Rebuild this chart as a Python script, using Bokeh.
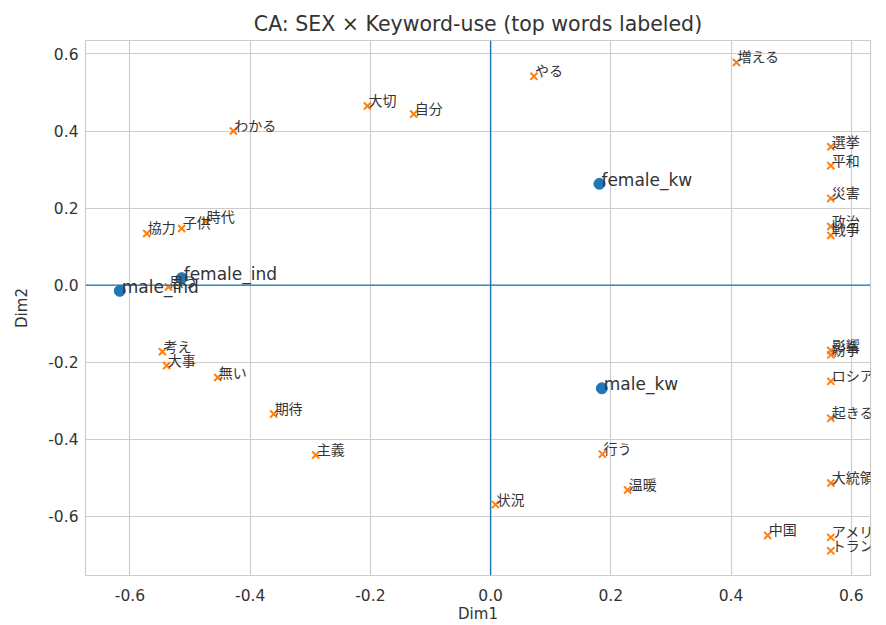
from bokeh.plotting import figure
from bokeh.models import ColumnDataSource, LabelSet, Span, FixedTicker, PrintfTickFormatter, Range1d
from bokeh.core.properties import value
from bokeh.embed import file_html
from bokeh.resources import INLINE

# Category points (row/column profiles)
cat_names = ["male_ind", "female_ind", "female_kw", "male_kw"]
cat_dim1 = [-0.617, -0.514, 0.181, 0.185]
cat_dim2 = [-0.015, 0.018, 0.263, -0.268]

# Keyword points
word_names = ["増える", "やる", "大切", "自分", "わかる", "選挙", "平和", "災害", "政治", "戦争",
              "協力", "子供", "時代", "思う", "考え", "大事", "無い", "期待", "主義",
              "状況", "行う", "温暖", "中国", "影響", "紛争", "ロシア", "起きる", "大統領",
              "アメリカ", "トランプ"]
word_dim1 = [0.409, 0.072, -0.205, -0.128, -0.428, 0.566, 0.566, 0.566, 0.566, 0.566,
             -0.572, -0.514, -0.474, -0.536, -0.546, -0.539, -0.454, -0.361, -0.291,
             0.008, 0.186, 0.228, 0.461, 0.566, 0.566, 0.566, 0.566, 0.566,
             0.566, 0.566]
word_dim2 = [0.578, 0.542, 0.465, 0.444, 0.400, 0.359, 0.310, 0.225, 0.152, 0.129,
             0.134, 0.147, 0.165, -0.005, -0.173, -0.209, -0.240, -0.335, -0.441,
             -0.570, -0.439, -0.532, -0.650, -0.170, -0.181, -0.250, -0.346, -0.514,
             -0.655, -0.690]

x_ticks = [-0.6, -0.4, -0.2, 0.0, 0.2, 0.4, 0.6]
y_ticks = [-0.6, -0.4, -0.2, 0.0, 0.2, 0.4, 0.6]

BLUE = "#1f77b4"
ORANGE = "#ff7f0e"
GRID = "#d0cccc"
TXT = "#333333"
FONT = "DejaVu Sans"
JP = "Noto Sans CJK JP"

p = figure(width=886, height=625, output_backend="svg", toolbar_location=None,
           x_range=Range1d(-0.674, 0.632), y_range=Range1d(-0.754, 0.635),
           title="CA: SEX × Keyword-use (top words labeled)",
           min_border_left=85, min_border_right=16, min_border_top=40, min_border_bottom=47)

p.title.align = "center"
p.title.text_font = FONT
p.title.text_font_size = "20.5px"
p.title.text_font_style = "normal"
p.title.text_color = TXT
p.title.standoff = 10

p.outline_line_color = GRID
p.outline_line_width = 1.2
p.background_fill_color = "white"
p.border_fill_color = "white"

for ax in (p.xaxis, p.yaxis):
    ax.axis_line_color = None
    ax.major_tick_line_color = None
    ax.minor_tick_line_color = None
    ax.major_label_text_font = FONT
    ax.major_label_text_font_size = "15.5px"
    ax.major_label_text_color = TXT
    ax.axis_label_text_font = FONT
    ax.axis_label_text_font_size = "15px"
    ax.axis_label_text_font_style = "normal"
    ax.axis_label_text_color = TXT
    ax.formatter = PrintfTickFormatter(format="%.1f")

p.xaxis.ticker = FixedTicker(ticks=x_ticks)
p.yaxis.ticker = FixedTicker(ticks=y_ticks)
p.xaxis.axis_label = "Dim1"
p.yaxis.axis_label = "Dim2"
p.xaxis.major_label_standoff = 7
p.yaxis.major_label_standoff = 1
p.xaxis.axis_label_standoff = 1
p.yaxis.axis_label_standoff = 14

p.grid.grid_line_color = GRID
p.grid.grid_line_width = 1.2

p.add_layout(Span(location=0, dimension="width", line_color=BLUE, line_width=1.4))
p.add_layout(Span(location=0, dimension="height", line_color=BLUE, line_width=1.4))

cat_src = ColumnDataSource(dict(x=cat_dim1, y=cat_dim2, name=cat_names))
word_src = ColumnDataSource(dict(x=word_dim1, y=word_dim2, name=word_names))

p.scatter("x", "y", source=word_src, marker="x", size=10, line_color=ORANGE, line_width=2)
p.scatter("x", "y", source=cat_src, marker="circle", size=11, fill_color=BLUE, line_color=BLUE)

p.add_layout(LabelSet(x="x", y="y", text="name", source=word_src, x_offset=1, y_offset=0,
                      text_font=value(JP), text_font_size="14px", text_color=TXT,
                      text_baseline="alphabetic"))
p.add_layout(LabelSet(x="x", y="y", text="name", source=cat_src, x_offset=2, y_offset=-2,
                      text_font=value(FONT), text_font_size="17px", text_color=TXT,
                      text_baseline="alphabetic"))

open("out.html", "w").write(file_html(p, INLINE))
